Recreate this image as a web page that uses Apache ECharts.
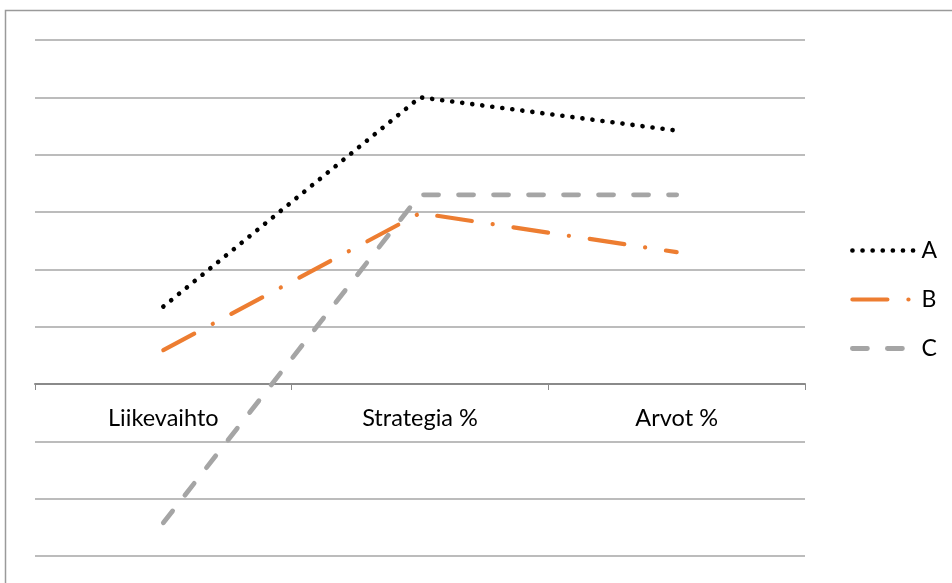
<!DOCTYPE html>
<html>
<head>
<meta charset="utf-8">
<script src="https://cdn.jsdelivr.net/npm/echarts@6/dist/echarts.min.js"></script>
<style>
  html, body { margin: 0; padding: 0; background: #fff; }
  #chart { width: 952px; height: 583px; }
</style>
</head>
<body>
<div id="chart"></div>
<script>
// Categories and series values
const categories = ['Liikevaihto', 'Strategia %', 'Arvot %'];
const seriesA = [1.35, 5.0, 4.42];
const seriesB = [0.59, 2.98, 2.30];
const seriesC = [-2.42, 3.30, 3.30];
const seriesNames = ['A', 'B', 'C'];

const FONT = 'Lato, "Open Sans", sans-serif';

// Line looks shared by the series and their legend entries
const styleA = { color: '#000000', width: 4.6, type: [0.1, 10], cap: 'round' };
const styleB = { color: '#ED7D31', width: 4.2, type: [35, 21, 0.1, 21], cap: 'round' };
const styleC = { color: '#A5A5A5', width: 4.8, type: [15, 20], cap: 'round' };

const chart = echarts.init(document.getElementById('chart'));

chart.setOption({
  animation: false,
  backgroundColor: '#ffffff',
  graphic: [{
    type: 'rect',
    shape: { x: 5.5, y: 10.5, width: 1000, height: 700 },
    style: { fill: 'none', stroke: '#9a9a9a', lineWidth: 1.5 },
    silent: true,
    z: -1
  }],
  grid: { left: 35, right: 147, top: 40, bottom: 27, containLabel: false, outerBoundsMode: 'none' },
  legend: {
    orient: 'vertical',
    left: 845,
    top: 234,
    itemWidth: 64,
    itemHeight: 20,
    itemGap: 26,
    itemTextGap: 13,
    itemStyle: { opacity: 0 },
    data: [
      { name: seriesNames[0], lineStyle: styleA, itemStyle: { opacity: 0 } },
      { name: seriesNames[1], lineStyle: styleB, itemStyle: { opacity: 0 } },
      { name: seriesNames[2], lineStyle: styleC, itemStyle: { opacity: 0 } }
    ],
    textStyle: { fontFamily: FONT, fontSize: 23, lineHeight: 20, color: '#000' }
  },
  xAxis: {
    type: 'category',
    data: categories,
    boundaryGap: true,
    // axis sits on the zero line: 3 of 9 units above the grid bottom
    offset: -172,
    axisLine: { onZero: false, lineStyle: { color: '#8a8a8a', width: 2 } },
    axisTick: { show: true, length: 6, lineStyle: { color: '#8a8a8a', width: 1 } },
    axisLabel: { margin: 22, fontFamily: FONT, fontSize: 23.5, color: '#000' },
    splitLine: { show: false }
  },
  yAxis: {
    type: 'value',
    min: -3,
    max: 6,
    interval: 1,
    axisLine: { show: false },
    axisTick: { show: false },
    axisLabel: { show: false },
    splitLine: { show: true, lineStyle: { color: '#a6a6a6', width: 1.5 } }
  },
  series: [
    {
      name: seriesNames[0],
      type: 'line',
      data: seriesA,
      symbol: 'none',
      color: '#000000',
      lineStyle: styleA,
      z: 3
    },
    {
      name: seriesNames[1],
      type: 'line',
      data: seriesB,
      symbol: 'none',
      color: '#ED7D31',
      lineStyle: styleB,
      z: 2
    },
    {
      name: seriesNames[2],
      type: 'line',
      data: seriesC,
      symbol: 'none',
      color: '#A5A5A5',
      lineStyle: styleC,
      z: 1
    }
  ]
});
</script>
</body>
</html>
